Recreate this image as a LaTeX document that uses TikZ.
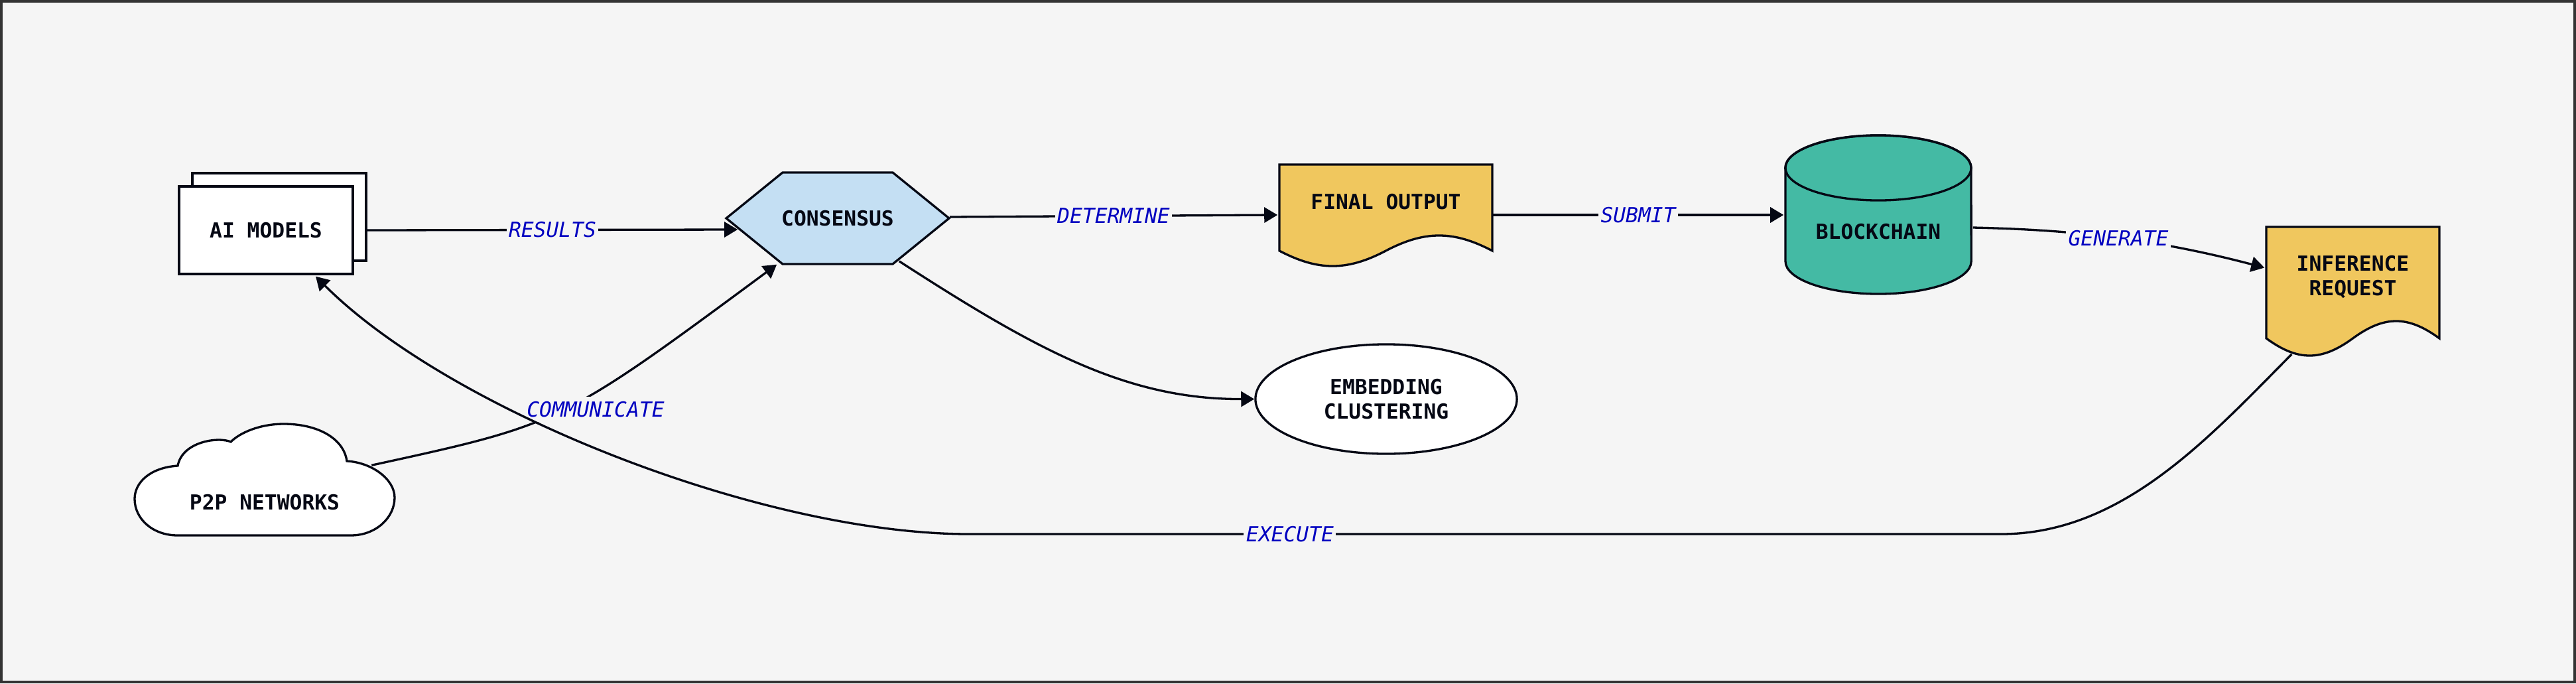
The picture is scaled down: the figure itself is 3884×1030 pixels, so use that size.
\documentclass[tikz,border=0pt]{standalone}
\usepackage{fontspec}
\setmonofont{DejaVu Sans Mono}
\usetikzlibrary{arrows.meta,shapes.geometric}
\definecolor{bgc}{HTML}{F5F5F5}
\definecolor{framec}{HTML}{333333}
\definecolor{ink}{HTML}{050814}
\definecolor{consc}{HTML}{C4DFF3}
\definecolor{docc}{HTML}{F0C75E}
\definecolor{cylc}{HTML}{44BAA4}
\definecolor{labc}{HTML}{0000C0}
\pgfdeclarelayer{bglayer}
\pgfdeclarelayer{shapelayer}
\pgfsetlayers{bglayer,shapelayer,main}
\tikzset{
  shapeline/.style={draw=ink, line width=0.033cm},
  nodetext/.style={font=\fontsize{8.9pt}{10.5pt}\selectfont\ttfamily\bfseries, text=ink, align=center, inner sep=0pt},
  boxnode/.style={nodetext, shapeline, fill=white, rectangle, minimum width=2.62cm, minimum height=1.32cm},
  conn/.style={draw=ink, line width=0.033cm, -{Triangle[length=0.2cm,width=0.23cm]}},
  lab/.style={font=\fontsize{8.9pt}{10.5pt}\selectfont\ttfamily\itshape, text=labc, fill=bgc, inner xsep=1pt, inner ysep=2pt},
}
\begin{document}
\begin{tikzpicture}[x=0.01cm,y=-0.01cm]
\useasboundingbox (0,0) rectangle (3884,1030);
\begin{pgfonlayer}{bglayer}
\draw[draw=framec, fill=bgc, line width=0.04cm] (2,2) rectangle (3882,1028);
\end{pgfonlayer}

% ---------- nodes ----------
\node[boxnode] (aiback) at (421,327) {};
\node[boxnode] (ai) at (401,347) {AI MODELS};
\node[nodetext, minimum width=3.36cm, minimum height=1.38cm] (cons) at (1263,329) {CONSENSUS};
\node[nodetext, minimum width=3.21cm, minimum height=1.12cm] (final) at (2089.5,304) {FINAL OUTPUT};
\node[nodetext, minimum width=2.8cm, minimum height=1.9cm] (chain) at (2832,349) {BLOCKCHAIN};
\node[nodetext, minimum width=2.61cm, minimum height=1.9cm] (inf) at (3547.5,417.5) {INFERENCE\\REQUEST};
\node[nodetext, ellipse, shapeline, fill=white, minimum width=3.94cm, minimum height=1.65cm] (emb) at (2090,601.5) {EMBEDDING\\CLUSTERING};
\node[nodetext, minimum width=3.91cm, minimum height=1cm] (p2p) at (399,757) {P2P NETWORKS};

% ---------- shapes ----------
\begin{pgfonlayer}{shapelayer}
% hexagon
\draw[shapeline, fill=consc] (1095,329) -- (1180,260) -- (1346,260) -- (1431,329) -- (1346,398) -- (1180,398) -- cycle;
% final output document
\draw[shapeline, fill=docc] (1929,248) -- (2250,248) -- (2250,378)
  .. controls (2191.6,347.3) and (2147.9,347.3) .. (2089.5,378)
  .. controls (2031.1,408.7) and (1987.4,408.7) .. (1929,378) -- cycle;
% inference request document
\draw[shapeline, fill=docc] (3417,342) -- (3678,342) -- (3678,510)
  .. controls (3630.5,475.3) and (3595,475.3) .. (3547.5,510)
  .. controls (3500,544.7) and (3464.5,544.7) .. (3417,510) -- cycle;
% blockchain cylinder
\draw[shapeline, fill=cylc] (2692,253) -- (2692,394)
  arc[start angle=180, end angle=360, x radius=1.4cm, y radius=0.49cm]
  -- (2972,253)
  arc[start angle=0, end angle=180, x radius=1.4cm, y radius=0.49cm] -- cycle;
\draw[shapeline] (2832,253) ellipse [x radius=1.4cm, y radius=0.49cm];
% cloud
\draw[shapeline, fill=white] (268,807) -- (529,807)
  .. controls (567,807) and (595,780) .. (595,750)
  .. controls (595,722) and (560,697) .. (523,695)
  .. controls (518,660) and (478,639) .. (428,639)
  .. controls (392,639) and (362,652) .. (348,666)
  .. controls (330,658) and (275,665) .. (268,702)
  .. controls (225,705) and (203,728) .. (203,752)
  .. controls (203,782) and (230,807) .. (268,807) -- cycle;
\end{pgfonlayer}

% ---------- connectors ----------
\draw[conn] (aiback.east |- ai.east) -- node[lab]{RESULTS} ([shift={(18,17)}]cons.west);
\draw[conn] ([shift={(0,-2)}]cons.east) -- node[lab]{DETERMINE} ([shift={(-2,20)}]final.west);
\draw[conn] ([shift={(0,20)}]final.east) -- node[lab]{SUBMIT} ([shift={(-2,-25)}]chain.west);
\draw[conn] ([shift={(2,-6)}]chain.east) .. controls (3100,346) and (3230,355) .. node[lab, pos=0.55]{GENERATE} ([shift={(-2,-14)}]inf.west);
\draw[conn] ([shift={(-76,-5)}]cons.south east) .. controls (1565,529) and (1700,602) .. (emb.west);
\draw[conn] ([shift={(-35,-5)}]p2p.north east) .. controls (846,639) .. node[lab, pos=0.5, xshift=0.47cm]{COMMUNICATE} ([shift={(77,0)}]cons.south west);
\draw[conn] ([shift={(39,116.5)}]inf.west) .. controls (3330,660) and (3200,805) .. (3017,805)
  -- node[lab, pos=0.689]{EXECUTE} (1461,805)
  .. controls (1150,805) and (680,620) .. ([shift={(75,2)}]ai.south);
\end{tikzpicture}
\end{document}
